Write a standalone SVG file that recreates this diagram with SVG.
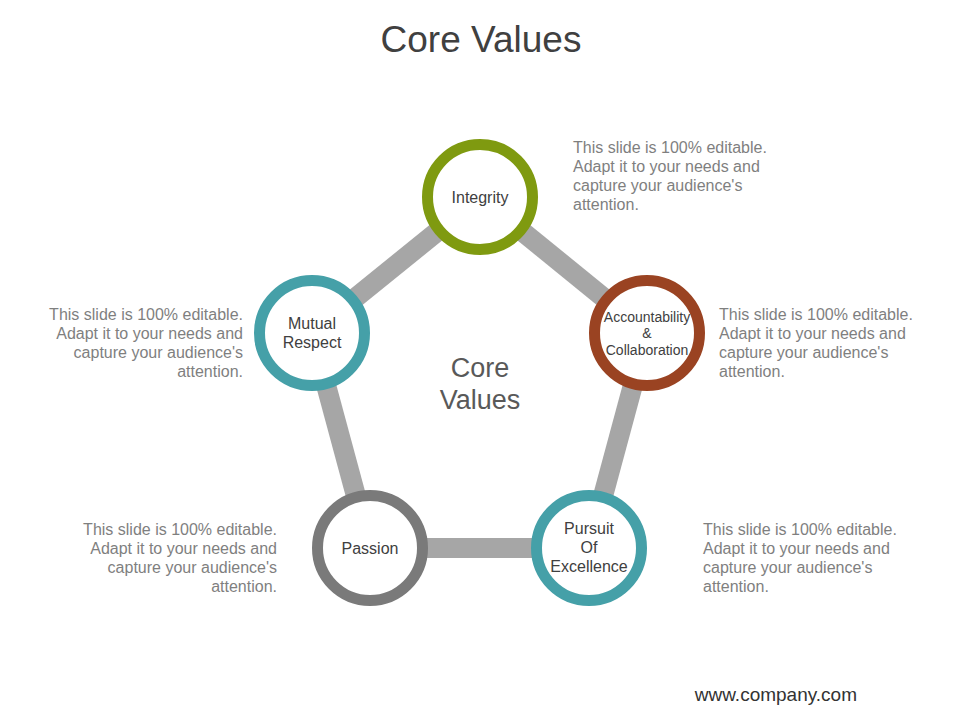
<svg xmlns="http://www.w3.org/2000/svg" width="960" height="720" viewBox="0 0 960 720">
<style>
.bar{stroke:#a6a6a6;stroke-width:20;fill:none}
.ring{fill:#fff;stroke-width:11}
.lbl{font-family:"Liberation Sans",Arial,sans-serif;font-size:16px;fill:#404040;text-anchor:middle}
.sm{font-size:14px}
.big{font-size:27px;fill:#595959}
.desc{font-family:"Liberation Sans",Arial,sans-serif;font-size:16px;fill:#7f7f7f}
.r{text-anchor:end}
</style>
<rect width="960" height="720" fill="#fff"/>
<text x="481" y="52" font-family="'Liberation Sans',Arial,sans-serif" font-size="37" fill="#404040" text-anchor="middle">Core Values</text>
<g id="connectors">
<line class="bar" x1="480" y1="197" x2="647" y2="333"/>
<line class="bar" x1="647" y1="333" x2="589" y2="548"/>
<line class="bar" x1="589" y1="548" x2="370" y2="548"/>
<line class="bar" x1="370" y1="548" x2="312" y2="333"/>
<line class="bar" x1="312" y1="333" x2="480" y2="197"/>
</g>
<g id="center">
<text class="lbl big" x="480" y="377">Core</text>
<text class="lbl big" x="480" y="409">Values</text>
</g>
<g id="integrity">
<circle class="ring" cx="480" cy="197" r="52.5" stroke="#7f9a10"/>
<text class="lbl" x="480" y="203">Integrity</text>
</g>
<g id="accountability">
<circle class="ring" cx="647" cy="333" r="52.5" stroke="#9a4322"/>
<text class="lbl sm" x="647" y="322">Accountability</text>
<text class="lbl sm" x="647" y="338">&amp;</text>
<text class="lbl sm" x="647" y="355">Collaboration</text>
</g>
<g id="mutual">
<circle class="ring" cx="312" cy="333" r="52.5" stroke="#45a0a8"/>
<text class="lbl" x="312" y="329">Mutual</text>
<text class="lbl" x="312" y="348">Respect</text>
</g>
<g id="passion">
<circle class="ring" cx="370" cy="548" r="52.5" stroke="#7a7a7a"/>
<text class="lbl" x="370" y="554">Passion</text>
</g>
<g id="pursuit">
<circle class="ring" cx="589" cy="548" r="52.5" stroke="#45a0a8"/>
<text class="lbl" x="589" y="534">Pursuit</text>
<text class="lbl" x="589" y="553">Of</text>
<text class="lbl" x="589" y="572">Excellence</text>
</g>
<g id="desc-top">
<text class="desc" x="573" y="153">This slide is 100% editable.</text>
<text class="desc" x="573" y="172">Adapt it to your needs and</text>
<text class="desc" x="573" y="191">capture your audience's</text>
<text class="desc" x="573" y="210">attention.</text>
</g>
<g id="desc-right">
<text class="desc" x="719" y="320">This slide is 100% editable.</text>
<text class="desc" x="719" y="339">Adapt it to your needs and</text>
<text class="desc" x="719" y="358">capture your audience's</text>
<text class="desc" x="719" y="377">attention.</text>
</g>
<g id="desc-left">
<text class="desc r" x="243" y="320">This slide is 100% editable.</text>
<text class="desc r" x="243" y="339">Adapt it to your needs and</text>
<text class="desc r" x="243" y="358">capture your audience's</text>
<text class="desc r" x="243" y="377">attention.</text>
</g>
<g id="desc-bottom-left">
<text class="desc r" x="277" y="535">This slide is 100% editable.</text>
<text class="desc r" x="277" y="554">Adapt it to your needs and</text>
<text class="desc r" x="277" y="573">capture your audience's</text>
<text class="desc r" x="277" y="592">attention.</text>
</g>
<g id="desc-bottom-right">
<text class="desc" x="703" y="535">This slide is 100% editable.</text>
<text class="desc" x="703" y="554">Adapt it to your needs and</text>
<text class="desc" x="703" y="573">capture your audience's</text>
<text class="desc" x="703" y="592">attention.</text>
</g>
<text x="857" y="701" font-family="'Liberation Sans',Arial,sans-serif" font-size="19" fill="#333" text-anchor="end">www.company.com</text>
</svg>
